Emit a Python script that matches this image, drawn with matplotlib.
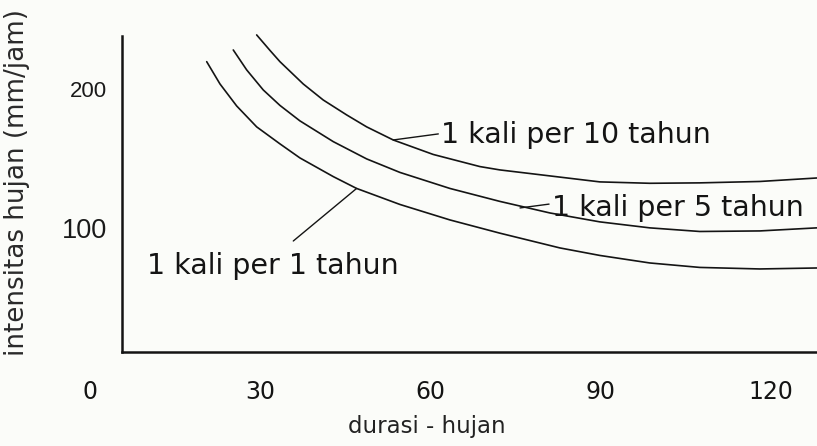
# kurva intensitas - durasi - frekuensi hujan (IDF), digambar ulang dari gambar buku
import matplotlib.pyplot as plt
from matplotlib import font_manager

# nilai: durasi (menit) dan intensitas hujan (mm/jam)
durasi_1th = [20.62, 22.96, 25.90, 29.42, 33.52, 37.04, 42.91, 47.02, 54.65,
              63.45, 72.25, 82.82, 89.86, 98.66, 107.46, 118.03, 128.06]
intens_1th = [221.5, 205.5, 189.7, 174.7, 162.5, 152.4, 139.0, 130.5, 119.0,
              107.9, 98.4, 87.8, 82.4, 77.0, 73.8, 72.7, 73.4]

durasi_5th = [25.30, 27.66, 30.58, 33.52, 37.04, 42.91, 48.79, 54.65,
              63.45, 72.25, 81.06, 89.86, 98.66, 107.46, 118.03, 128.06]
intens_5th = [229.9, 215.6, 201.2, 190.1, 179.0, 164.1, 151.7, 142.0,
              130.5, 121.2, 112.9, 106.5, 102.2, 99.6, 100.0, 102.2]

durasi_10th = [29.42, 31.76, 33.52, 37.62, 41.14, 45.26, 48.79, 53.47,
               60.51, 68.73, 72.25, 89.86, 98.66, 107.46, 118.03, 128.06]
intens_10th = [240.7, 229.6, 221.5, 205.5, 194.0, 183.3, 174.7, 165.3,
               154.9, 146.2, 143.8, 135.2, 134.2, 134.5, 135.5, 138.0]

x_ticks = [0, 30, 60, 90, 120]
y_ticks = [100, 200]

ink = '#141414'
bg = '#fbfcf9'

# angka sumbu x di gambar asli memakai huruf sempit
try:
    font_manager.findfont('Liberation Sans Narrow', fallback_to_default=False)
    narrow, nsize, xl_size = 'Liberation Sans Narrow', 21, 19
except ValueError:
    narrow, nsize, xl_size = 'DejaVu Sans', 17, 16.5

fig = plt.figure(figsize=(8.17, 4.46), dpi=100, facecolor=bg)
ax = fig.add_axes([0.1493, 0.2108, 0.8507, 0.7265], facecolor=bg)

for d, i in [(durasi_1th, intens_1th), (durasi_5th, intens_5th), (durasi_10th, intens_10th)]:
    ax.plot(d, i, color=ink, lw=1.2, solid_capstyle='round', solid_joinstyle='round', clip_on=False)

ax.set_xlim(5.7, 128.1)
ax.set_ylim(13.1, 245.7)
ax.spines['top'].set_visible(False)
ax.spines['right'].set_visible(False)
ax.spines['left'].set_bounds(13.1, 239.6)
for s in ['left', 'bottom']:
    ax.spines[s].set_linewidth(1.8)
    ax.spines[s].set_color(ink)
ax.set_xticks([])
ax.set_yticks([])

# label angka ditulis manual (angka 0 berada di luar garis sumbu)
for t in x_ticks:
    ax.text(t, -0.123, str(t), transform=ax.get_xaxis_transform(), ha='center', va='center',
            fontsize=nsize, family=narrow, color=ink, clip_on=False)
for t, fs in zip(y_ticks, [19.5, 16]):
    ax.text(-0.022, t, str(t), transform=ax.get_yaxis_transform(), ha='right', va='center',
            fontsize=fs, family='Liberation Sans', color='#1a1a1a', clip_on=False)

fig.text(0.523, 0.043, 'durasi - hujan', ha='center', va='center', fontsize=xl_size,
         family=narrow, color='#222222')
fig.text(0.021, 0.59, 'intensitas hujan (mm/jam)', rotation=90, ha='center', va='center',
         fontsize=18.8, color='#2a2a2a')

# keterangan tiap kurva dengan garis penunjuk
arr = dict(arrowstyle='-', color=ink, lw=1.0, shrinkA=0, shrinkB=0)
ax.annotate('1 kali per 10 tahun', xy=(durasi_10th[7], intens_10th[7]), xytext=(61.9, 168.9),
            ha='left', va='center', fontsize=20.5, color=ink,
            arrowprops=dict(arr, relpos=(0, 0.55)))
ax.annotate('1 kali per 5 tahun', xy=(75.8, 116.5), xytext=(81.4, 116.5),
            ha='left', va='center', fontsize=20.5, color=ink,
            arrowprops=dict(arr, relpos=(0, 0.65)))
ax.annotate('1 kali per 1 tahun', xy=(durasi_1th[7], intens_1th[7]), xytext=(10.1, 75.0),
            ha='left', va='center', fontsize=20.5, color=ink,
            arrowprops=dict(arr, relpos=(0.53, 1.0), shrinkA=9))

fig.savefig('out.png', dpi=100, facecolor=bg)
